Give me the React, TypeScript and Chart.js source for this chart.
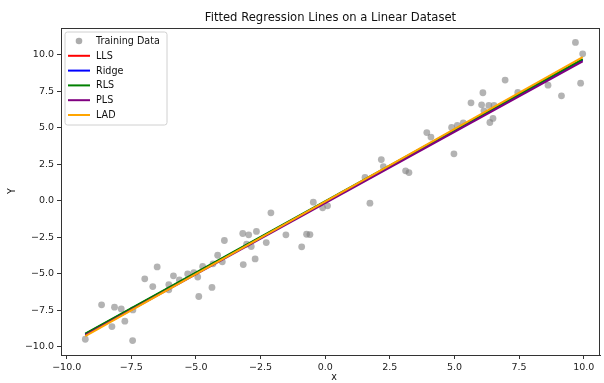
import React, { useEffect, useRef } from "react";
import { Chart, registerables } from "chart.js";

Chart.register(...registerables);

const trainX = [
  -9.28, -8.65, -8.15, -7.89, -8.25, -7.75, -7.44, -7.45, -6.98, -6.5, -6.67, -6.05, -6.05, -5.87, -5.64,
  -5.32, -5.08, -4.93, -4.89, -4.38, -4.74, -4.34, -4.16, -3.98, -3.9, -3.17, -3.19, -2.96, -3.04, -2.86,
  -2.66, -2.71, -2.28, -2.1, -1.52, -0.91, -0.72, -0.59, -0.46, -0.1, 0.09, 1.54, 1.73, 2.17, 2.25, 3.11,
  3.24, 3.93, 4.09, 4.89, 4.98, 5.11, 5.34, 5.64, 6.05, 6.1, 6.14, 6.33, 6.37, 6.49, 6.53, 6.96, 7.45,
  8.62, 9.14, 9.68, 9.88, 9.96,
];
const trainY = [
  -9.49, -7.13, -7.29, -7.41, -8.62, -8.25, -7.48, -9.58, -5.35, -4.53, -5.88, -5.74, -6.1, -5.14, -5.42,
  -5.01, -4.92, -5.23, -6.56, -5.94, -4.5, -4.32, -3.73, -4.18, -2.72, -4.37, -2.24, -2.33, -2.97, -3.13,
  -2.1, -3.98, -2.86, -0.82, -2.33, -3.15, -2.29, -2.31, -0.09, -0.48, -0.34, 1.6, -0.16, 2.83, 2.35, 2.06,
  1.94, 4.68, 4.37, 5.03, 3.22, 5.17, 5.35, 6.72, 6.58, 7.41, 6.17, 6.54, 5.37, 5.65, 6.54, 8.28, 7.43,
  7.93, 7.2, 10.86, 8.07, 10.08,
];

const lineX = [-9.28, 9.96];
const llsY = [-9.14, 9.66];
const ridgeY = [-9.14, 9.65];
const rlsY = [-9.1, 9.72];
const plsY = [-9.2, 9.57];
const ladY = [-9.27, 9.86];

const xTicks = [-10, -7.5, -5, -2.5, 0, 2.5, 5, 7.5, 10];
const yTicks = [-10, -7.5, -5, -2.5, 0, 2.5, 5, 7.5, 10];

const seriesNames = ["LLS", "Ridge", "RLS", "PLS", "LAD"];
const seriesColors = ["#ff0000", "#0000ff", "#008000", "#800080", "#ffa500"];
const seriesYs = [llsY, ridgeY, rlsY, plsY, ladY];

const FONT = "'DejaVu Sans', sans-serif";
const fmt = (v: number) => {
  const s = Math.abs(v).toFixed(1);
  return v < 0 ? "\u2212" + s : s;
};

const decorPlugin = {
  id: "decor",
  afterDraw(chart: any) {
    const { ctx, chartArea } = chart;
    ctx.save();
    // spines
    ctx.strokeStyle = "#333";
    ctx.lineWidth = 1;
    ctx.strokeRect(chartArea.left + 0.5, chartArea.top + 0.5, chartArea.right - chartArea.left - 1, chartArea.bottom - chartArea.top);
    // title
    ctx.fillStyle = "#111";
    ctx.font = `11.6px ${FONT}`;
    ctx.textAlign = "center";
    ctx.textBaseline = "middle";
    ctx.fillText("Fitted Regression Lines on a Linear Dataset", (chartArea.left + chartArea.right) / 2, 17.5);
    // axis titles
    ctx.font = `9.6px ${FONT}`;
    ctx.fillText("x", 334, 377);
    ctx.save();
    ctx.translate(12, 191);
    ctx.rotate(-Math.PI / 2);
    ctx.fillText("Y", 0, 0);
    ctx.restore();
    // legend
    const lx = 65, ly = 32, lw = 102, lh = 93, r = 2.5;
    ctx.beginPath();
    ctx.moveTo(lx + r, ly);
    ctx.lineTo(lx + lw - r, ly);
    ctx.arcTo(lx + lw, ly, lx + lw, ly + r, r);
    ctx.lineTo(lx + lw, ly + lh - r);
    ctx.arcTo(lx + lw, ly + lh, lx + lw - r, ly + lh, r);
    ctx.lineTo(lx + r, ly + lh);
    ctx.arcTo(lx, ly + lh, lx, ly + lh - r, r);
    ctx.lineTo(lx, ly + r);
    ctx.arcTo(lx, ly, lx + r, ly, r);
    ctx.closePath();
    ctx.fillStyle = "rgba(255,255,255,0.8)";
    ctx.fill();
    ctx.strokeStyle = "#d0d0d0";
    ctx.stroke();
    const rowY = (i: number) => 41 + i * 14.8;
    ctx.textAlign = "left";
    ctx.font = `9.6px ${FONT}`;
    // training data marker
    ctx.beginPath();
    ctx.arc(79, rowY(0), 3.3, 0, Math.PI * 2);
    ctx.fillStyle = "rgba(128,128,128,0.65)";
    ctx.fill();
    ctx.fillStyle = "#111";
    ctx.fillText("Training Data", 96, rowY(0) + 0.5);
    seriesNames.forEach((name, i) => {
      const y = rowY(i + 1);
      ctx.beginPath();
      ctx.moveTo(68, y);
      ctx.lineTo(90, y);
      ctx.strokeStyle = seriesColors[i];
      ctx.lineWidth = 2;
      ctx.stroke();
      ctx.fillStyle = "#111";
      ctx.fillText(name, 96, y + 0.5);
    });
    ctx.restore();
  },
};

export default function App() {
  const ref = useRef<HTMLCanvasElement>(null);
  useEffect(() => {
    if (!ref.current) return;
    const scatterData = trainX.map((x, i) => ({ x, y: trainY[i] }));
    const lineSets = seriesNames.map((name, i) => ({
      label: name,
      data: lineX.map((x, j) => ({ x, y: seriesYs[i][j] })),
      showLine: true,
      borderColor: seriesColors[i],
      backgroundColor: seriesColors[i],
      borderWidth: 2,
      pointRadius: 0,
      order: 5 - i,
    }));
    const chart = new Chart(ref.current, {
      type: "scatter",
      data: {
        datasets: [
          {
            label: "Training Data",
            data: scatterData,
            pointRadius: 3.4,
            pointBackgroundColor: "rgba(128,128,128,0.6)",
            pointBorderWidth: 0,
            borderColor: "rgba(0,0,0,0)",
            order: 10,
          },
          ...lineSets,
        ] as any,
      },
      options: {
        animation: false,
        responsive: false,
        layout: { padding: { top: 28, right: 1, left: 0, bottom: 0 } },
        plugins: { legend: { display: false }, tooltip: { enabled: false }, title: { display: false } },
        scales: {
          x: {
            type: "linear",
            min: -10.22,
            max: 10.63,
            afterFit: (s: any) => {
              s.height = 28;
            },
            afterBuildTicks: (s: any) => {
              s.ticks = xTicks.map((v) => ({ value: v }));
            },
            grid: { display: true, drawOnChartArea: false, drawTicks: true, tickLength: 4, color: "#333" },
            border: { display: true, color: "#333", width: 1 },
            ticks: {
              autoSkip: false,
              maxRotation: 0,
              padding: 3,
              color: "#222",
              font: { family: FONT, size: 9.5 },
              callback: (v: any) => fmt(Number(v)),
            },
          },
          y: {
            type: "linear",
            min: -10.57,
            max: 11.85,
            afterFit: (s: any) => {
              s.width = 61;
            },
            afterBuildTicks: (s: any) => {
              s.ticks = yTicks.map((v) => ({ value: v }));
            },
            grid: { display: true, drawOnChartArea: false, drawTicks: true, tickLength: 4, color: "#333" },
            border: { display: true, color: "#333", width: 1 },
            ticks: {
              autoSkip: false,
              padding: 3,
              color: "#222",
              font: { family: FONT, size: 9.5 },
              callback: (v: any) => fmt(Number(v)),
            },
          },
        },
      } as any,
      plugins: [decorPlugin],
    });
    return () => chart.destroy();
  }, []);
  return (
    <div style={{ position: "fixed", left: 0, top: 0, width: 604, height: 383, background: "#fff" }}>
      <canvas ref={ref} width={604} height={383} style={{ display: "block", width: 604, height: 383 }} />
    </div>
  );
}
